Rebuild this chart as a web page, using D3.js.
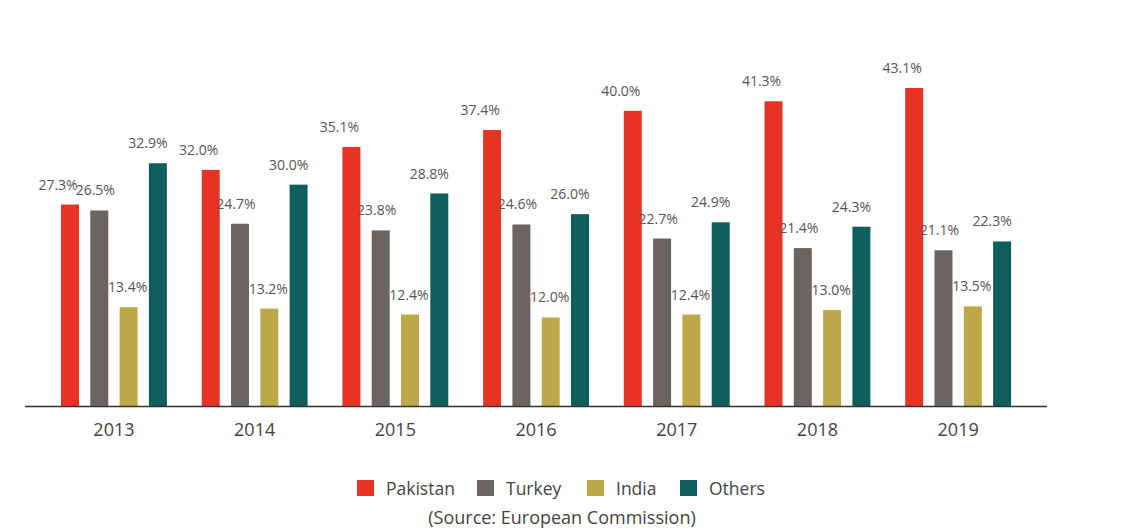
<!DOCTYPE html>
<html>
<head>
<meta charset="utf-8">
<script src="https://cdn.jsdelivr.net/npm/d3@7"></script>
<style>
  body { margin: 0; background: #fff; }
  svg { display: block; font-family: 'Open Sans', sans-serif; }
</style>
</head>
<body>
<svg id="chart"></svg>
<script>
const years = ['2013', '2014', '2015', '2016', '2017', '2018', '2019'];
const seriesNames = ['Pakistan', 'Turkey', 'India', 'Others'];
const pakistan = [27.3, 32.0, 35.1, 37.4, 40.0, 41.3, 43.1];
const turkey = [26.5, 24.7, 23.8, 24.6, 22.7, 21.4, 21.1];
const india = [13.4, 13.2, 12.4, 12.0, 12.4, 13.0, 13.5];
const others = [32.9, 30.0, 28.8, 26.0, 24.9, 24.3, 22.3];
const sourceNote = '(Source: European Commission)';

const seriesValues = [pakistan, turkey, india, others];
const colors = ['#e63323', '#6b6461', '#bfa84a', '#0e5e5b'];
// label nudges (px) per series, as in the original
const labelShift = [-12, -4, -1, -10];

const width = 1127, height = 531;
const baseY = 406;

const svg = d3.select('#chart')
  .attr('width', width)
  .attr('height', height)
  .attr('viewBox', [0, 0, width, height]);

const x = d3.scaleBand().domain(years).range([43.6, 1028.5]).padding(0);
const xInner = d3.scaleBand()
  .domain(seriesNames)
  .range([0, 117.2])
  .paddingInner(0.386)
  .paddingOuter(0.193);
const y = d3.scaleLinear().domain([0, 43.1]).range([baseY, 88]);

const rows = years.map((yr, i) => ({
  year: yr,
  items: seriesNames.map((s, j) => ({ key: s, value: seriesValues[j][i], idx: j }))
}));

const groups = svg.append('g')
  .selectAll('g')
  .data(rows)
  .join('g')
  .attr('transform', (d) => `translate(${x(d.year) + x.bandwidth() / 2 - 58.6},0)`);

groups.selectAll('rect')
  .data((d) => d.items)
  .join('rect')
  .attr('x', (d) => xInner(d.key))
  .attr('width', xInner.bandwidth())
  .attr('y', (d) => y(d.value))
  .attr('height', (d) => y(0) - y(d.value) + 1)
  .attr('fill', (d) => colors[d.idx]);

groups.selectAll('text')
  .data((d) => d.items)
  .join('text')
  .attr('x', (d) => xInner(d.key) + xInner.bandwidth() / 2 + labelShift[d.idx])
  .attr('y', (d) => y(d.value) - 15)
  .attr('text-anchor', 'middle')
  .attr('font-size', 14)
  .attr('fill', '#555')
  .text((d) => d.value.toFixed(1) + '%');

// x axis
const xAxis = d3.axisBottom(x).tickSize(0).tickPadding(17);
svg.append('g')
  .attr('transform', `translate(0,${baseY})`)
  .call(xAxis)
  .call((g) => g.select('.domain').remove())
  .call((g) => g.selectAll('.tick text')
    .attr('font-size', 18)
    .attr('font-family', "'Open Sans', sans-serif")
    .attr('fill', '#444'));

svg.append('line')
  .attr('x1', 25).attr('x2', 1047)
  .attr('y1', baseY + 0.5).attr('y2', baseY + 0.5)
  .attr('stroke', '#333')
  .attr('stroke-width', 1.3);

// legend
const legendX = [357, 477, 587, 680];
const legend = svg.append('g')
  .selectAll('g')
  .data(seriesNames)
  .join('g')
  .attr('transform', (d, i) => `translate(${legendX[i]},480)`);

legend.append('rect')
  .attr('width', 17).attr('height', 16)
  .attr('fill', (d, i) => colors[i]);

legend.append('text')
  .attr('x', 29).attr('y', 15)
  .attr('font-size', 17.5)
  .attr('fill', '#444')
  .text((d) => d);

svg.append('text')
  .attr('x', 562).attr('y', 524)
  .attr('text-anchor', 'middle')
  .attr('font-size', 18)
  .attr('fill', '#444')
  .text(sourceNote);
</script>
</body>
</html>
